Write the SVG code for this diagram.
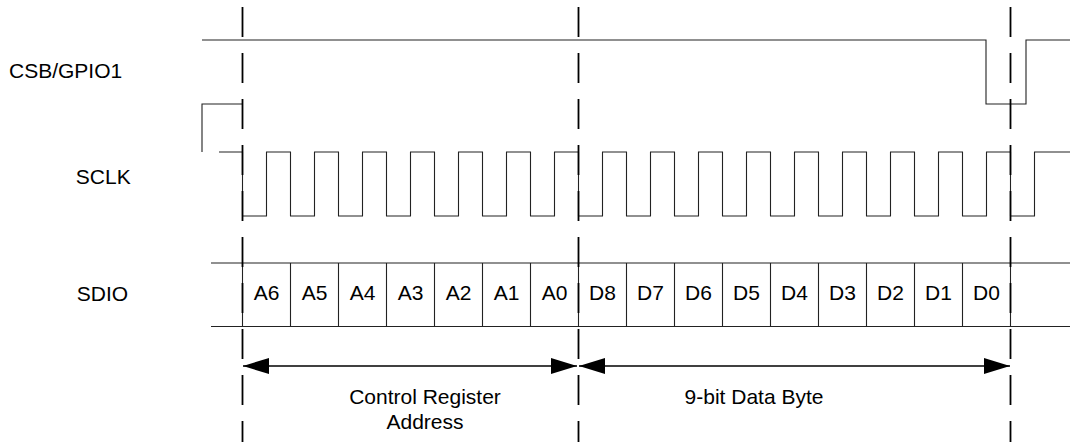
<svg xmlns="http://www.w3.org/2000/svg" width="1070" height="442" viewBox="0 0 1070 442">
<defs>
<style>
.sig{fill:none;stroke:#222;stroke-width:1.1}
.dash{fill:none;stroke:#000;stroke-width:1.8;stroke-dasharray:30 16}
.arr{fill:none;stroke:#000;stroke-width:1.6}
text{font-family:"Liberation Sans",Arial,sans-serif;font-size:21px;fill:#000}
.c{text-anchor:middle}
</style>
<marker id="ah" viewBox="0 0 26 16" refX="26" refY="8" markerWidth="26" markerHeight="16" markerUnits="userSpaceOnUse" orient="auto-start-reverse">
<path d="M0,0 L26,8 L0,16 Z" fill="#000"/>
</marker>
</defs>
<rect width="1070" height="442" fill="#fff"/>
<g id="labels">
<text x="9" y="77.5">CSB/GPIO1</text>
<text class="c" x="103.3" y="184">SCLK</text>
<text class="c" x="102.5" y="300.5">SDIO</text>
</g>
<g id="csb">
<path class="sig" d="M202,40 H986 V104 H1026 V40 H1070"/>
</g>
<g id="sclk">
<path class="sig" d="M202,152 V104 H242.5"/>
<path class="sig" d="M219,152 H242.5 V216 H266.5 V152 H290.5 V216 H314.5 V152 H338.5 V216 H362.5 V152 H386.5 V216 H410.5 V152 H434.5 V216 H458.5 V152 H482.5 V216 H506.5 V152 H530.5 V216 H554.5 V152 H578.5 V216 H602.5 V152 H626.5 V216 H650.5 V152 H674.5 V216 H698.5 V152 H722.5 V216 H746.5 V152 H770.5 V216 H794.5 V152 H818.5 V216 H842.5 V152 H866.5 V216 H890.5 V152 H914.5 V216 H938.5 V152 H962.5 V216 H986.5 V152 H1010.5 V216 H1034.5 V152 H1070"/>
</g>
<g id="sdio">
<path class="sig" d="M211,263 H1070 M211,326.5 H1070 M242.5,263 V326.5 M290.5,263 V326.5 M338.5,263 V326.5 M386.5,263 V326.5 M434.5,263 V326.5 M482.5,263 V326.5 M530.5,263 V326.5 M578.5,263 V326.5 M626.5,263 V326.5 M674.5,263 V326.5 M722.5,263 V326.5 M770.5,263 V326.5 M818.5,263 V326.5 M866.5,263 V326.5 M914.5,263 V326.5 M962.5,263 V326.5 M1010.5,263 V326.5"/>
<g class="c">
<text class="c" x="266.5" y="300">A6</text>
<text class="c" x="314.5" y="300">A5</text>
<text class="c" x="362.5" y="300">A4</text>
<text class="c" x="410.5" y="300">A3</text>
<text class="c" x="458.5" y="300">A2</text>
<text class="c" x="506.5" y="300">A1</text>
<text class="c" x="554.5" y="300">A0</text>
<text class="c" x="602.5" y="300">D8</text>
<text class="c" x="650.5" y="300">D7</text>
<text class="c" x="698.5" y="300">D6</text>
<text class="c" x="746.5" y="300">D5</text>
<text class="c" x="794.5" y="300">D4</text>
<text class="c" x="842.5" y="300">D3</text>
<text class="c" x="890.5" y="300">D2</text>
<text class="c" x="938.5" y="300">D1</text>
<text class="c" x="986.5" y="300">D0</text>
</g>
</g>
<g id="markers">
<path class="dash" d="M242.5,7 V442 M578.5,7 V442 M1010.5,7 V442"/>
</g>
<g id="connectors">
<path class="arr" d="M243,366 H577" marker-start="url(#ah)" marker-end="url(#ah)"/>
<path class="arr" d="M579,366 H1010" marker-start="url(#ah)" marker-end="url(#ah)"/>
</g>
<g id="annotations">
<text class="c" x="425" y="404">Control Register</text>
<text class="c" x="425" y="429">Address</text>
<text class="c" x="754" y="404">9-bit Data Byte</text>
</g>
</svg>
